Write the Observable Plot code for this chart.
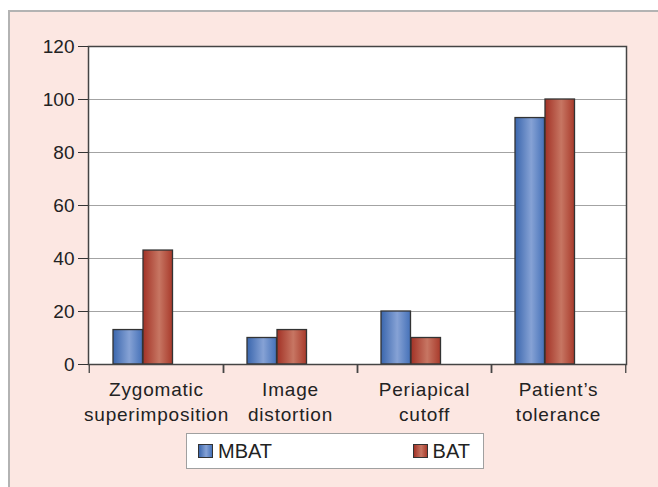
<!DOCTYPE html>
<html>
<head>
<meta charset="utf-8">
<script src="https://cdn.jsdelivr.net/npm/d3@7"></script>
<script src="https://cdn.jsdelivr.net/npm/@observablehq/plot@0.6"></script>
<style>
  html, body { margin: 0; padding: 0; background: #ffffff; }
  body { position: relative; width: 658px; height: 487px; overflow: hidden; font-family: "Liberation Sans", Arial, sans-serif; }
  #bg { position: absolute; left: 8px; top: 10px; width: 650px; height: 477px; background: #fce7e2;
        border-top: 2px solid #b3b3b3; border-left: 2px solid #b3b3b3; box-sizing: border-box; }
  #content { position: absolute; left: 0; top: 0; width: 658px; }
  #chart svg { display: block; }
  #chart g[aria-label="text"] text { letter-spacing: 0.8px; }
  #legend { position: absolute; left: 186px; top: 433px; width: 298px; height: 36px; box-sizing: border-box;
            background: #ffffff; border: 1.5px solid #a0a0a0; display: flex; align-items: center;
            justify-content: space-between; padding: 0 13px 0 11px; font-size: 20px; color: #222; }
  .item { display: flex; align-items: center; }
  .sw { width: 15px; height: 14px; box-sizing: border-box; border: 1px solid #333; margin-right: 5px; }
</style>
</head>
<body>
<div id="bg"></div>
<div id="content">
  <div id="chart"></div>
  <div id="legend"></div>
</div>
<script>
// ---- data ----
const categories = ["Zygomatic superimposition", "Image distortion", "Periapical cutoff", "Patient’s tolerance"];
const seriesNames = ["MBAT", "BAT"];
const mbatValues = [13, 10, 20, 93];
const batValues = [43, 13, 10, 100];
const yTicks = [0, 20, 40, 60, 80, 100, 120];

// ---- styles ----
const gradients = {
  MBAT: ["#3a66ad", "#86a2d5", "#4571b8"],
  BAT: ["#a23226", "#c77663", "#a83a2b"]
};

const data = categories.flatMap((c, i) => [
  {category: c, series: "MBAT", value: mbatValues[i]},
  {category: c, series: "BAT", value: batValues[i]}
]);

const W = 658, H = 430, mL = 88, mR = 32, mT = 46, mB = 66;
const band = (W - mL - mR) / categories.length;
const barW = 30, leftGap = 24;
const font = "'Liberation Sans', Arial, sans-serif";

const plot = Plot.plot({
  width: W, height: H,
  marginLeft: mL, marginRight: mR, marginTop: mT, marginBottom: mB,
  style: {background: "transparent", fontFamily: font, color: "#222"},
  x: {type: "band", domain: categories, padding: 0, axis: null, label: null},
  y: {domain: [0, 120], axis: null, label: null},
  color: {domain: seriesNames, range: ["url(#gradMBAT)", "url(#gradBAT)"]},
  marks: [
    Plot.frame({fill: "white", stroke: null}),
    Plot.gridY(yTicks, {stroke: "#a3a3a3", strokeOpacity: 1, strokeWidth: 1}),
    Plot.barY(data.filter(d => d.series === "MBAT"), {
      x: "category", y: "value", fill: "series", stroke: "#333", strokeWidth: 1.3,
      insetLeft: leftGap, insetRight: band - leftGap - barW
    }),
    Plot.barY(data.filter(d => d.series === "BAT"), {
      x: "category", y: "value", fill: "series", stroke: "#333", strokeWidth: 1.3,
      insetLeft: leftGap + barW, insetRight: band - leftGap - 2 * barW
    }),
    Plot.frame({stroke: "#444", strokeWidth: 1.5}),
    Plot.axisY(yTicks, {tickSize: 10, tickPadding: 4, fontSize: 19, color: "#333", fill: "#222", label: null}),
    Plot.axisX(categories, {tickSize: 9, tickFormat: () => "", dx: -band / 2, stroke: "#444", strokeWidth: 1.3, label: null}),
    Plot.axisX(categories, {tickSize: 9, tickFormat: () => "", dx: band / 2, stroke: "#444", strokeWidth: 1.3, label: null}),
    Plot.text(categories, {
      x: d => d, frameAnchor: "bottom", lineAnchor: "top", dy: 14,
      text: d => d.replace(" ", "\n"), fontSize: 19, lineHeight: 1.3, fill: "#222"
    })
  ]
});

// gradient definitions for the bar fills
const svg = d3.select(plot);
const defs = svg.insert("defs", ":first-child");
for (const s of seriesNames) {
  const g = defs.append("linearGradient").attr("id", "grad" + s)
    .attr("x1", "0%").attr("x2", "100%").attr("y1", "0%").attr("y2", "0%");
  const c = gradients[s];
  g.append("stop").attr("offset", "0%").attr("stop-color", c[0]);
  g.append("stop").attr("offset", "55%").attr("stop-color", c[1]);
  g.append("stop").attr("offset", "100%").attr("stop-color", c[2]);
}
document.getElementById("chart").appendChild(plot);

// legend
const legend = d3.select("#legend");
for (const s of seriesNames) {
  const c = gradients[s];
  const item = legend.append("div").attr("class", "item");
  item.append("div").attr("class", "sw")
    .style("background", `linear-gradient(to right, ${c[0]}, ${c[1]} 55%, ${c[2]})`);
  item.append("span").text(s);
}
</script>
</body>
</html>
